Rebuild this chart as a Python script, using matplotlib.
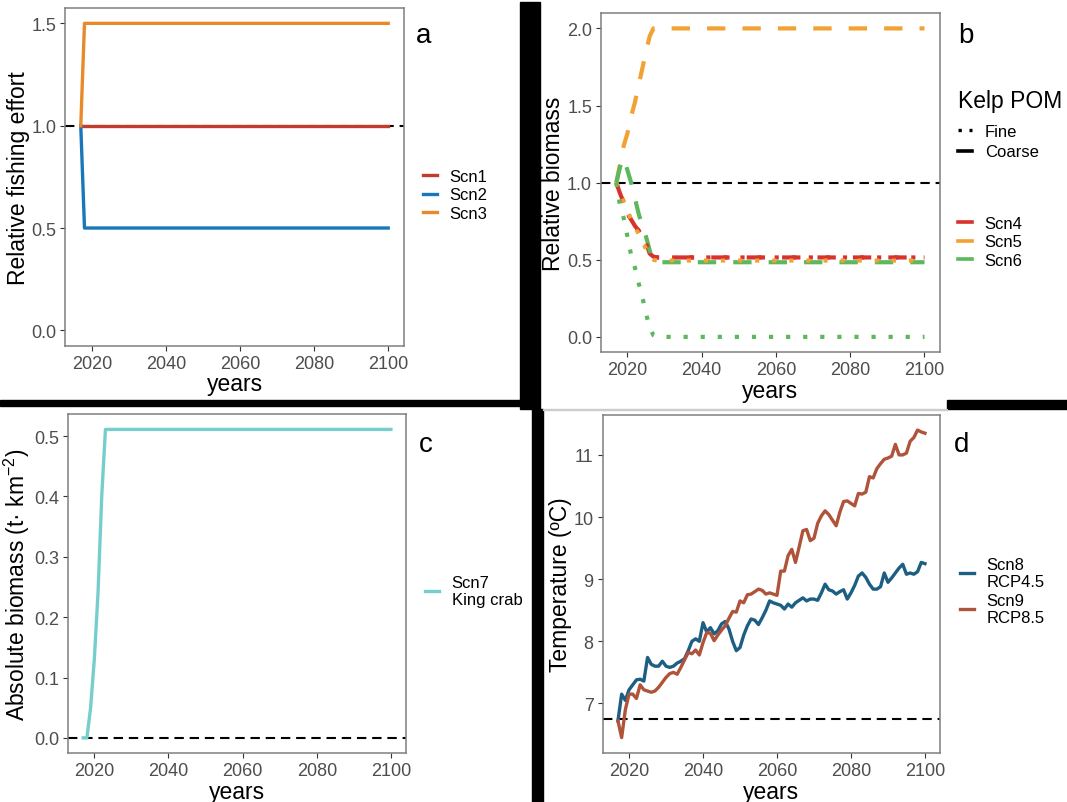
import matplotlib
matplotlib.use("Agg")
import matplotlib.pyplot as plt
from matplotlib.lines import Line2D
from matplotlib.patches import Rectangle

plt.rcParams['font.family'] = ['Liberation Sans', 'DejaVu Sans']
plt.rcParams['mathtext.fontset'] = 'custom'
plt.rcParams['mathtext.rm'] = 'Liberation Sans'
plt.rcParams['mathtext.it'] = 'Liberation Sans:italic'

# ---- panel a: relative fishing effort
yrs_a = [2017, 2018, 2100]
scn1 = [1.0, 1.0, 1.0]
scn2 = [1.0, 0.5, 0.5]
scn3 = [1.0, 1.5, 1.5]

# ---- panel b: relative biomass, kelp POM (fine / coarse)
yrs_b = [2017, 2018, 2019, 2020, 2021, 2022, 2023, 2024, 2025, 2026, 2027, 2028, 2100]
scn4_coarse = [1.0, 0.93, 0.87, 0.80, 0.76, 0.72, 0.69, 0.65, 0.61, 0.54, 0.52, 0.515, 0.515]
scn4_fine = [1.0, 0.93, 0.87, 0.80, 0.76, 0.72, 0.69, 0.65, 0.61, 0.54, 0.52, 0.515, 0.515]
scn5_coarse = [1.0, 1.12, 1.24, 1.32, 1.43, 1.52, 1.63, 1.74, 1.85, 1.95, 2.0, 2.0, 2.0]
scn5_fine = [1.0, 0.94, 0.88, 0.82, 0.76, 0.71, 0.67, 0.62, 0.57, 0.52, 0.50, 0.495, 0.495]
scn6_coarse = [1.0, 1.10, 1.16, 1.08, 1.0, 0.90, 0.80, 0.72, 0.65, 0.56, 0.50, 0.484, 0.484]
scn6_fine = [1.0, 0.85, 0.77, 0.65, 0.53, 0.45, 0.35, 0.26, 0.15, 0.06, 0.01, 0.0, 0.0]

# ---- panel c: king crab absolute biomass
yrs_c = [2017, 2018, 2019, 2020, 2021, 2022, 2023, 2100]
scn7 = [0.0, 0.0, 0.05, 0.13, 0.24, 0.40, 0.511, 0.511]

# ---- panel d: temperature
yrs_d = list(range(2017, 2101))
rcp45 = [6.72, 7.15, 7.05, 7.22, 7.30, 7.38, 7.39, 7.36, 7.74, 7.63,
         7.60, 7.60, 7.68, 7.60, 7.58, 7.60, 7.65, 7.68, 7.72, 7.85,
         8.00, 8.04, 8.00, 8.30, 8.15, 8.22, 8.12, 8.17, 8.28, 8.32,
         8.20, 8.00, 7.85, 7.90, 8.10, 8.25, 8.36, 8.34, 8.27, 8.38,
         8.50, 8.65, 8.62, 8.60, 8.58, 8.52, 8.60, 8.55, 8.62, 8.66,
         8.70, 8.65, 8.68, 8.68, 8.66, 8.78, 8.92, 8.83, 8.81, 8.76,
         8.80, 8.83, 8.68, 8.78, 8.90, 9.05, 9.10, 9.03, 8.92, 8.84,
         8.84, 8.88, 9.10, 8.95, 9.02, 9.10, 9.18, 9.24, 9.08, 9.10,
         9.08, 9.12, 9.27, 9.25]
rcp85 = [6.72, 6.45, 6.90, 7.15, 7.15, 7.08, 7.30, 7.22, 7.20, 7.18,
         7.20, 7.26, 7.34, 7.42, 7.48, 7.50, 7.47, 7.58, 7.70, 7.82,
         7.80, 7.86, 7.78, 7.98, 8.14, 8.13, 8.01, 8.10, 8.18, 8.25,
         8.37, 8.48, 8.47, 8.65, 8.62, 8.75, 8.76, 8.80, 8.84, 8.82,
         8.76, 8.78, 8.76, 8.74, 9.13, 9.13, 9.38, 9.48, 9.27, 9.52,
         9.78, 9.80, 9.62, 9.66, 9.90, 10.02, 10.10, 10.04, 9.95, 9.86,
         10.08, 10.25, 10.26, 10.22, 10.18, 10.38, 10.37, 10.40, 10.65, 10.63,
         10.78, 10.86, 10.93, 10.95, 10.98, 11.17, 11.00, 11.00, 11.03, 11.22,
         11.28, 11.40, 11.37, 11.35]
temp_ref = 6.75

W, H = 1067, 803
fig = plt.figure(figsize=(W / 100, H / 100), dpi=100)

def axes_px(x0, y0, x1, y1):
    return fig.add_axes([x0 / W, 1 - y1 / H, (x1 - x0) / W, (y1 - y0) / H])

def style(ax, ylabel, ylim, yticks, yticklabels):
    ax.set_xlim(2012.85, 2104.15)
    ax.set_xticks([2020, 2040, 2060, 2080, 2100])
    ax.set_ylim(*ylim)
    ax.set_yticks(yticks)
    ax.set_yticklabels(yticklabels)
    for s in ax.spines.values():
        s.set_color('#7f7f7f')
        s.set_linewidth(1.1)
    ax.tick_params(labelsize=13, labelcolor='#4d4d4d', color='#333333',
                   length=3.8, width=0.8, pad=2.6)
    ax.set_xlabel('years', fontsize=16.5, labelpad=0.5)
    ax.set_ylabel(ylabel, fontsize=16.5, labelpad=1)

def legend_at(ax, handles, labels, x, y, spacing=0.22, **kw):
    leg = ax.legend(handles, labels, loc='center left',
                    bbox_to_anchor=(x / W, 1 - y / H), bbox_transform=fig.transFigure,
                    frameon=False, fontsize=12, handlelength=0.85, handletextpad=0.75,
                    labelspacing=spacing, borderpad=0, borderaxespad=0, **kw)
    return leg

dash_k = dict(color='black', lw=1.5, linestyle=(0, (4.5, 2.8)), zorder=1)

# panel a
ax = axes_px(65.4, 9, 403.6, 346.7)
ax.axhline(1.0, **dash_k)
la1, = ax.plot(yrs_a, scn1, color='#c23b2c', lw=2.4, zorder=2)
la2, = ax.plot(yrs_a, scn2, color='#1876bb', lw=2.4, zorder=2)
la3, = ax.plot(yrs_a, scn3, color='#e8892a', lw=2.4, zorder=2)
style(ax, 'Relative fishing effort', (-0.075, 1.575), [0, 0.5, 1.0, 1.5],
      ['0.0', '0.5', '1.0', '1.5'])
legend_at(ax, [la1, la2, la3], ['Scn1', 'Scn2', 'Scn3'], 423, 196)

# panel b
ax = axes_px(600.9, 14, 939.9, 353.3)
ax.axhline(1.0, **dash_k)
coarse = (0, (4.4, 4.1))
fine = (0, (1, 3.1))
cb = {'Scn4': '#d7322b', 'Scn5': '#f2a133', 'Scn6': '#5cb85c'}
for vals, c in [(scn4_coarse, cb['Scn4']), (scn5_coarse, cb['Scn5']), (scn6_coarse, cb['Scn6'])]:
    ax.plot(yrs_b, vals, color=c, lw=3.0, linestyle=coarse, dash_capstyle='butt', zorder=2)
for vals, c in [(scn4_fine, cb['Scn4']), (scn5_fine, cb['Scn5']), (scn6_fine, cb['Scn6'])]:
    ax.plot(yrs_b, vals, color=c, lw=3.0, linestyle=fine, dash_capstyle='butt', zorder=2)
style(ax, 'Relative biomass', (-0.1, 2.1), [0, 0.5, 1.0, 1.5, 2.0],
      ['0.0', '0.5', '1.0', '1.5', '2.0'])
lt = [Line2D([], [], color='black', lw=2.4, linestyle=(0, (1, 2.3)), dash_capstyle='butt'),
      Line2D([], [], color='black', lw=2.6)]
leg1 = legend_at(ax, lt, ['Fine', 'Coarse'], 958, 125, spacing=0.32, title='Kelp POM',
                 title_fontsize=16.5, alignment='left')
leg1._legend_box.sep = 9
ax.add_artist(leg1)
lc = [Line2D([], [], color=cb[k], lw=2.6) for k in cb]
legend_at(ax, lc, list(cb.keys()), 958, 243)

# panel c
ax = axes_px(67.8, 415, 406.3, 754.3)
ax.axhline(0.0, **dash_k)
lc7, = ax.plot(yrs_c, scn7, color='#76cecc', lw=2.4, zorder=2)
style(ax, 'Absolute biomass (t\u00b7 km$^{-2}$)', (-0.02555, 0.53655),
      [0, 0.1, 0.2, 0.3, 0.4, 0.5], ['0.0', '0.1', '0.2', '0.3', '0.4', '0.5'])
legend_at(ax, [lc7], ['Scn7\nKing crab'], 425, 592)

# panel d
ax = axes_px(602.6, 415.7, 940.3, 754)
ax.axhline(temp_ref, **dash_k)
ld8, = ax.plot(yrs_d, rcp45, color='#1d5e83', lw=2.4, zorder=2, solid_joinstyle='round')
ld9, = ax.plot(yrs_d, rcp85, color='#b0533b', lw=2.4, zorder=2, solid_joinstyle='round')
style(ax, 'Temperature (\u00baC)', (6.2025, 11.6475), [7, 8, 9, 10, 11],
      ['7', '8', '9', '10', '11'])
legend_at(ax, [ld8, ld9], ['Scn8\nRCP4.5', 'Scn9\nRCP8.5'], 960, 592)

# panel letters
for letter, x, y in [('a', 424, 43), ('b', 966, 43), ('c', 426, 452), ('d', 962, 452)]:
    fig.text(x / W, 1 - y / H, letter, fontsize=20, ha='center', va='baseline')

# black separators of the composite figure
for x0, y0, x1, y1 in [(520, 3, 540, 410), (0, 401, 520, 407),
                       (532, 410, 543, 803), (947, 401, 1067, 410)]:
    fig.patches.append(Rectangle((x0 / W, 1 - y1 / H), (x1 - x0) / W, (y1 - y0) / H,
                                 transform=fig.transFigure, color='black', zorder=5))
fig.patches.append(Rectangle((543 / W, 1 - 411 / H), 404 / W, 1 / H,
                             transform=fig.transFigure, color='#cccccc', zorder=5))

fig.savefig('out.png', dpi=100)
